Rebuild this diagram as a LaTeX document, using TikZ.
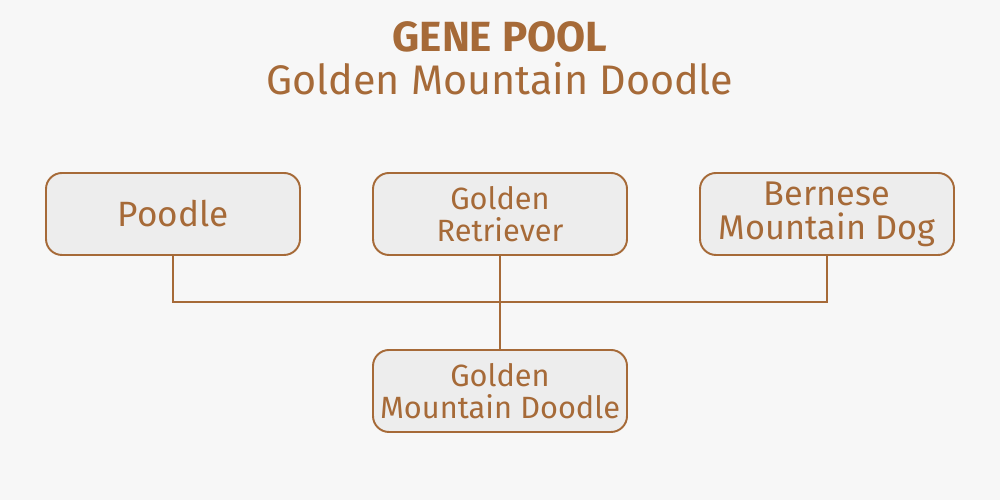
\documentclass[tikz,border=0pt]{standalone}
\usepackage{fontspec}
\setmainfont{Fira Sans}
\definecolor{dogbrown}{RGB}{166,106,56}
\definecolor{boxfill}{RGB}{237,237,237}
\definecolor{paper}{RGB}{247,247,247}
\tikzset{
  breedbox/.style={draw=dogbrown, line width=1.1pt, fill=boxfill, rounded corners=0.32cm,
    minimum width=5.08cm, minimum height=1.64cm, align=center, text=dogbrown,
    font=\fontsize{17.5}{18}\selectfont, inner sep=0pt},
  link/.style={draw=dogbrown, line width=1.1pt}
}
\begin{document}
\begin{tikzpicture}
      \fill [paper] (0,0) rectangle (20,10);
      \useasboundingbox (0,0) rectangle (20,10);
      % title
      \node (title) at (10,9.26) [text=dogbrown, font=\fontsize{24}{26}\selectfont\bfseries] {GENE POOL};
      \node (subtitle) at (10,8.42) [text=dogbrown, font=\fontsize{23.5}{26}\selectfont] {Golden Mountain Doodle};
      % parents
      \node (poodle) at (3.46,5.72) [breedbox, font=\fontsize{20}{22}\selectfont] {Poodle};
      \node (retriever) at (10,5.72) [breedbox] {Golden\\Retriever};
      \node (bernese) at (16.54,5.72) [breedbox, font=\fontsize{19.5}{19.5}\selectfont] {Bernese\\Mountain Dog};
      % offspring
      \node (doodle) at (10,2.18) [breedbox] {Golden\\Mountain Doodle};
      \coordinate (join) at (10,3.96);
      \draw [link] (poodle.south) |- (join) -| (bernese.south);
      \draw [link] (retriever.south) -- (doodle.north);
\end{tikzpicture}
\end{document}
